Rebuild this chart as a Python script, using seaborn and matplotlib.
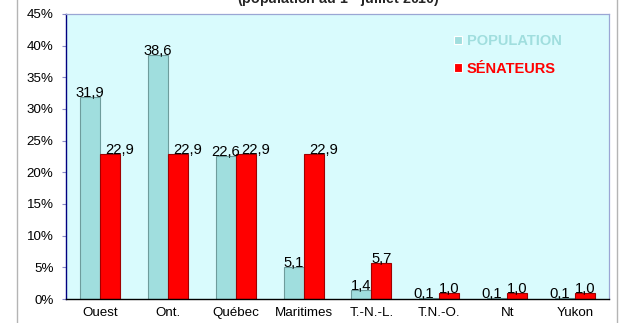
import matplotlib
matplotlib.use("Agg")
import matplotlib.pyplot as plt
from matplotlib.patches import Rectangle
import pandas as pd
import seaborn as sns

regions = ['Ouest', 'Ont.', 'Québec', 'Maritimes', 'T.-N.-L.', 'T.N.-O.', 'Nt', 'Yukon']
population = [31.9, 38.6, 22.6, 5.1, 1.4, 0.1, 0.1, 0.1]
senateurs = [22.9, 22.9, 22.9, 22.9, 5.7, 1.0, 1.0, 1.0]
series = ['POPULATION', 'SÉNATEURS']
yticks = [0, 5, 10, 15, 20, 25, 30, 35, 40, 45]

df = pd.DataFrame({
    'region': regions * 2,
    'serie': [series[0]] * len(regions) + [series[1]] * len(regions),
    'valeur': population + senateurs,
})

sns.set_theme(style='white')
plt.rcParams['font.family'] = ['Liberation Sans', 'DejaVu Sans']
plt.rcParams['mathtext.fontset'] = 'custom'
plt.rcParams['mathtext.rm'] = 'Liberation Sans'
plt.rcParams['mathtext.bf'] = 'Liberation Sans:bold'

pop_color = '#a0dede'
sen_color = '#ff0000'

fig = plt.figure(figsize=(6.21, 3.23), dpi=100)
ax = fig.add_axes([66 / 621, 24 / 323, 543 / 621, 285 / 323])
ax.set_facecolor('#d9fbfd')

sns.barplot(data=df, x='region', y='valeur', hue='serie', order=regions,
            hue_order=series, palette={series[0]: pop_color, series[1]: sen_color},
            width=0.59, saturation=1, linewidth=0.8, ax=ax)

edges = ['#6e9c9c', '#a00000']
for cont, ec in zip(ax.containers, edges):
    for bar in cont:
        bar.set_edgecolor(ec)

# data labels, Excel nudges a few of them sideways
for i, cont in enumerate(ax.containers):
    for bar in cont:
        v = bar.get_height()
        dx = 0
        if i == 1 and v > 20:
            dx = 7
        if i == 0 and v < 1:
            dx = -4
        ax.annotate(f"{v:.1f}".replace('.', ','),
                    (bar.get_x() + bar.get_width() / 2, v),
                    xytext=(dx, 0), textcoords='offset points',
                    ha='center', va='baseline', fontsize=10.6, color='black')

ax.set_xlim(-0.5, len(regions) - 0.5)
ax.set_ylim(0, 45)
ax.set_yticks(yticks)
ax.set_yticklabels([f"{t}%" for t in yticks])
ax.set_xlabel('')
ax.set_ylabel('')
ax.tick_params(axis='y', which='major', length=3, width=0.8, color='#8c8cc8',
               labelsize=9.6, pad=6, left=True, labelcolor='black')
ax.tick_params(axis='x', length=0, labelsize=9.6, pad=6, labelcolor='black')

for side in ['top', 'right']:
    ax.spines[side].set_color('#9aa6d4')
    ax.spines[side].set_linewidth(0.9)
ax.spines['left'].set_color('#000080')
ax.spines['left'].set_linewidth(1.0)
ax.spines['bottom'].set_color('black')
ax.spines['bottom'].set_linewidth(1.0)

handles, labels = ax.get_legend_handles_labels()
leg = ax.legend(handles, labels, loc='upper left', bbox_to_anchor=(0.702, 0.955),
                frameon=False, borderpad=0, handlelength=0.55, handleheight=0.55,
                handletextpad=0.3, labelspacing=0.95,
                prop={'weight': 'bold', 'size': 10.5})
for txt, c in zip(leg.get_texts(), [pop_color, sen_color]):
    txt.set_color(c)

fig.add_artist(Rectangle((17 / 621, -0.1), 600 / 621, 1.2, transform=fig.transFigure,
                         fill=False, edgecolor='#b4b4b4', linewidth=1))
fig.text(338 / 621, 1 - 4 / 323, r'(population au 1$^{\mathbf{er}}$ juillet 2010)',
         ha='center', va='baseline', fontsize=10.3, fontweight='bold')

fig.savefig('out.png', dpi=100)
